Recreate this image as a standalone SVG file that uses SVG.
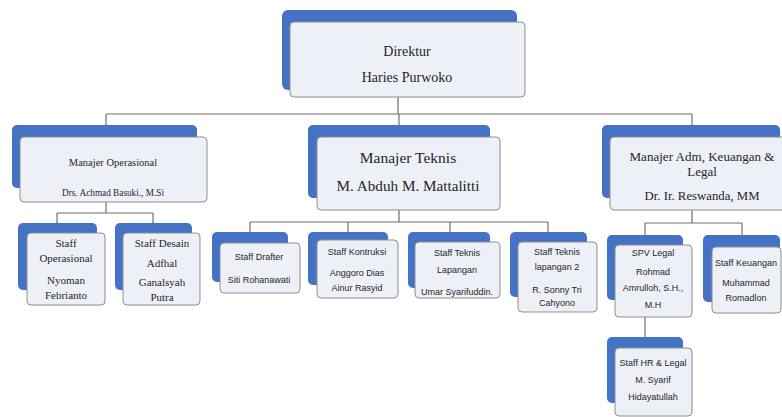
<svg xmlns="http://www.w3.org/2000/svg" width="782" height="417" viewBox="0 0 782 417">
<style>
.bk{fill:#4472c4;}
.fr{fill:#eef0f8;stroke:#8e8e8e;stroke-width:1;}
.cn{stroke:#6f6f6f;stroke-width:1.2;fill:none;}
.sf{font-family:"Liberation Serif","DejaVu Serif",serif;fill:#262626;text-anchor:middle;}
.ss{font-family:"Liberation Sans","DejaVu Sans",sans-serif;fill:#262626;text-anchor:middle;font-size:9px;}
</style>
<rect width="782" height="417" fill="#ffffff"/>
<g id="connectors">
<path class="cn" d="M398,97V114M106,114H692M106,114V137M399,114V137M692,114V137"/>
<path class="cn" d="M106,202V213M57,213H153M57,213V233M153,213V233"/>
<path class="cn" d="M399,210V222M250,222H548M250,222V243M348,222V240M450,222V242M548,222V242"/>
<path class="cn" d="M692,210V223M645,223H742M645,223V245M742,223V247M645,317V348"/>
</g>
<g id="direktur">
<rect class="bk" x="282" y="10" width="235" height="80" rx="6"/>
<rect class="fr" x="290" y="22" width="235" height="75" rx="4"/>
<text class="sf" x="407" y="56" font-size="14">Direktur</text>
<text class="sf" x="407" y="82" font-size="14">Haries Purwoko</text>
</g>
<g id="manajer-operasional">
<rect class="bk" x="12" y="125" width="185" height="63" rx="5"/>
<rect class="fr" x="20" y="137" width="187" height="65" rx="4"/>
<text class="sf" x="113" y="166" font-size="10.5">Manajer Operasional</text>
<text class="sf" x="113" y="196" font-size="10.5" textLength="102" lengthAdjust="spacingAndGlyphs">Drs. Achmad Basuki., M.Si</text>
</g>
<g id="manajer-teknis">
<rect class="bk" x="308" y="125" width="182" height="73" rx="5"/>
<rect class="fr" x="317" y="137" width="183" height="73" rx="4"/>
<text class="sf" x="408" y="163" font-size="15.5">Manajer Teknis</text>
<text class="sf" x="408" y="191" font-size="15" textLength="143" lengthAdjust="spacingAndGlyphs">M. Abduh M. Mattalitti</text>
</g>
<g id="manajer-adm">
<rect class="bk" x="602" y="125" width="178" height="73" rx="5"/>
<rect class="fr" x="610" y="137" width="180" height="73" rx="4"/>
<text class="sf" x="702" y="161" font-size="13" textLength="145" lengthAdjust="spacingAndGlyphs">Manajer Adm, Keuangan &amp;</text>
<text class="sf" x="702" y="176" font-size="13">Legal</text>
<text class="sf" x="702" y="200" font-size="13" textLength="115" lengthAdjust="spacingAndGlyphs">Dr. Ir. Reswanda, MM</text>
</g>
<g id="staff-operasional">
<rect class="bk" x="18" y="223" width="79" height="67" rx="5"/>
<rect class="fr" x="27" y="233" width="78" height="72" rx="4"/>
<text class="sf" x="66" y="247" font-size="11">Staff</text>
<text class="sf" x="66" y="262" font-size="11">Operasional</text>
<text class="sf" x="66" y="284" font-size="11">Nyoman</text>
<text class="sf" x="66" y="299" font-size="11">Febrianto</text>
</g>
<g id="staff-desain">
<rect class="bk" x="115" y="223" width="77" height="67" rx="5"/>
<rect class="fr" x="123" y="233" width="77" height="72" rx="4"/>
<text class="sf" x="162" y="247" font-size="11">Staff Desain</text>
<text class="sf" x="162" y="267" font-size="11">Adfhal</text>
<text class="sf" x="162" y="286" font-size="11">Ganalsyah</text>
<text class="sf" x="162" y="301" font-size="11">Putra</text>
</g>
<g id="staff-drafter">
<rect class="bk" x="212" y="232" width="76" height="50" rx="5"/>
<rect class="fr" x="220" y="243" width="80" height="50" rx="4"/>
<text class="ss" x="259" y="260">Staff Drafter</text>
<text class="ss" x="259" y="283">Siti Rohanawati</text>
</g>
<g id="staff-kontruksi">
<rect class="bk" x="308" y="232" width="80" height="53" rx="5"/>
<rect class="fr" x="317" y="240" width="81" height="58" rx="4"/>
<text class="ss" x="357" y="255" font-size="8.8">Staff Kontruksi</text>
<text class="ss" x="357" y="276">Anggoro Dias</text>
<text class="ss" x="357" y="291">Ainur Rasyid</text>
</g>
<g id="staff-teknis-lapangan">
<rect class="bk" x="408" y="232" width="82" height="56" rx="5"/>
<rect class="fr" x="415" y="242" width="85" height="56" rx="4"/>
<text class="ss" x="457" y="256">Staff Teknis</text>
<text class="ss" x="457" y="273">Lapangan</text>
<text class="ss" x="457" y="295">Umar Syarifuddin.</text>
</g>
<g id="staff-teknis-lapangan-2">
<rect class="bk" x="510" y="232" width="77" height="65" rx="5"/>
<rect class="fr" x="518" y="242" width="79" height="70" rx="4"/>
<text class="ss" x="557" y="255">Staff Teknis</text>
<text class="ss" x="557" y="270">lapangan 2</text>
<text class="ss" x="557" y="293">R. Sonny Tri</text>
<text class="ss" x="557" y="306">Cahyono</text>
</g>
<g id="spv-legal">
<rect class="bk" x="607" y="235" width="76" height="65" rx="5"/>
<rect class="fr" x="615" y="245" width="77" height="72" rx="4"/>
<text class="ss" x="653" y="256">SPV Legal</text>
<text class="ss" x="653" y="275">Rohmad</text>
<text class="ss" x="653" y="291">Amrulloh, S.H.,</text>
<text class="ss" x="653" y="308">M.H</text>
</g>
<g id="staff-keuangan">
<rect class="bk" x="703" y="235" width="77" height="67" rx="5"/>
<rect class="fr" x="712" y="247" width="69" height="66" rx="4"/>
<text class="ss" x="746" y="266" font-size="8">Staff Keuangan</text>
<text class="ss" x="746" y="286">Muhammad</text>
<text class="ss" x="746" y="301">Romadlon</text>
</g>
<g id="staff-hr-legal">
<rect class="bk" x="607" y="337" width="76" height="66" rx="5"/>
<rect class="fr" x="615" y="348" width="77" height="68" rx="4"/>
<text class="ss" x="653" y="366" font-size="8.5">Staff HR &amp; Legal</text>
<text class="ss" x="653" y="383">M. Syarif</text>
<text class="ss" x="653" y="400">Hidayatullah</text>
</g>
</svg>
